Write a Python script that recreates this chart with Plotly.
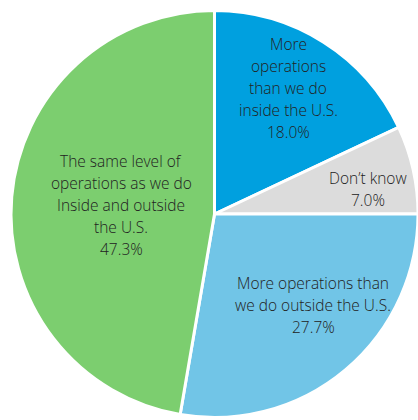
import plotly.graph_objects as go

# Survey answers, clockwise from 12 o'clock
categories = [
    "More<br>operations<br>than we do<br>inside the U.S.",
    "Don\u2019t know",
    "More operations than<br>we do outside the U.S.",
    "The same level of<br>operations as we do<br>Inside and outside<br>the U.S.",
]
values = [18.0, 7.0, 27.7, 47.3]
colors = ["#00A0DF", "#DCDCDC", "#71C5E7", "#7CCE6F"]

# Label block centres in pixels (x, y from top)
label_centers = [(288, 88), (368, 189), (313, 305), (121, 204.5)]

W, H = 418, 420
LINE_GAP = 22
FONT = dict(family="Open Sans, Noto Sans, sans-serif", size=15.5, color="#222222", weight=300)

fig = go.Figure(
    go.Pie(
        labels=[c.replace("<br>", " ") for c in categories],
        values=values,
        sort=False,
        direction="clockwise",
        rotation=0,
        marker=dict(colors=colors, line=dict(color="white", width=3)),
        textinfo="none",
        hoverinfo="skip",
        showlegend=False,
        domain=dict(x=[11 / W, 1.0], y=[1 - 417.5 / H, 1 - 10.5 / H]),
    )
)

annotations = []
for cat, val, (cx, cy) in zip(categories, values, label_centers):
    lines = cat.split("<br>") + [f"{val:.1f}%"]
    n = len(lines)
    for i, line in enumerate(lines):
        py = cy + (i - (n - 1) / 2) * LINE_GAP
        annotations.append(
            dict(
                text=line,
                x=cx / W,
                y=1 - py / H,
                xref="paper",
                yref="paper",
                xanchor="center",
                yanchor="middle",
                showarrow=False,
                font=FONT,
            )
        )

fig.update_layout(
    width=W,
    height=H,
    margin=dict(l=0, r=0, t=0, b=0),
    paper_bgcolor="white",
    plot_bgcolor="white",
    annotations=annotations,
)

fig.write_html("out.html")
